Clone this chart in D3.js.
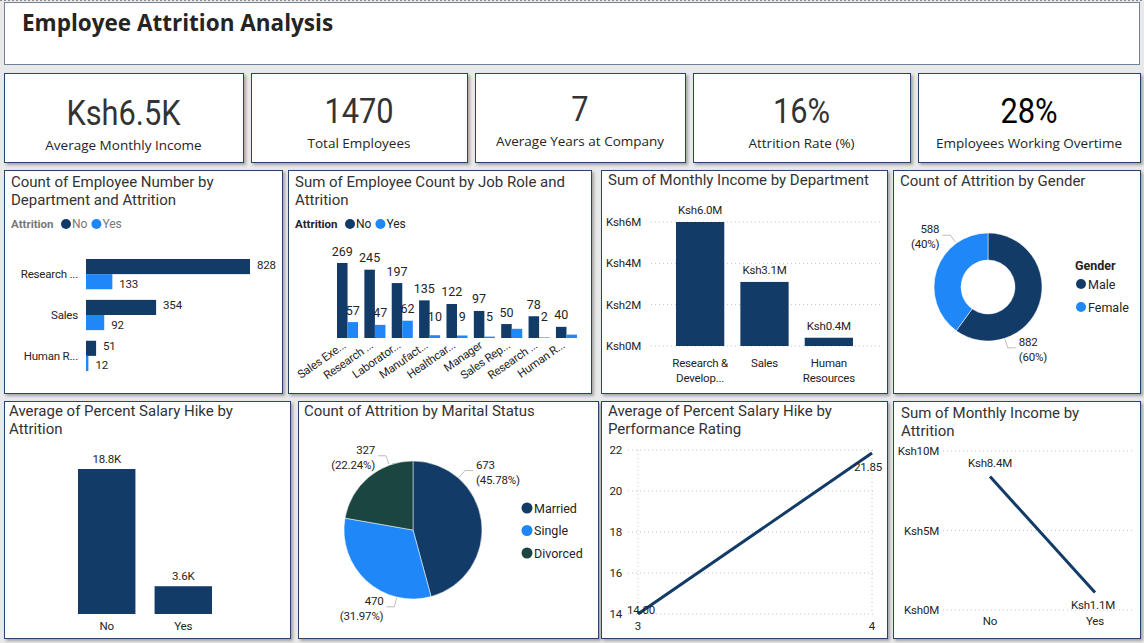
<!DOCTYPE html>
<html>
<head>
<meta charset="utf-8">
<script src="https://cdn.jsdelivr.net/npm/d3@7"></script>
<style>
body { margin: 0; background: #e9e9e9; }
svg { display: block; }
</style>
</head>
<body>
<script>
// kpi cards
const kpiValues = ["Ksh6.5K", "1470", "7", "16%", "28%"]
const kpiLabels = ["Average Monthly Income", "Total Employees", "Average Years at Company", "Attrition Rate (%)", "Employees Working Overtime"]

// employee count by department and attrition
const departments = ["Research ...", "Sales", "Human R..."]
const deptNo = [828, 354, 51]
const deptYes = [133, 92, 12]

// employee count by job role and attrition
const jobRoles = ["Sales Exe...", "Research ...", "Laborator...", "Manufact...", "Healthcar...", "Manager", "Sales Rep...", "Research ...", "Human R..."]
const roleNo = [269, 245, 197, 135, 122, 97, 50, 78, 40]
const roleYes = [57, 47, 62, 10, 9, 5, 33, 2, 12]

// monthly income by department
const incomeDepts = ["Research & Develop...", "Sales", "Human Resources"]
const incomeByDept = [6.0e6, 3.1e6, 0.4e6]
const incomeTicks = [0, 2e6, 4e6, 6e6]

// attrition by gender
const genders = ["Male", "Female"]
const genderCounts = [882, 588]

// percent salary hike by attrition
const hikeAttrition = ["No", "Yes"]
const hikeSums = [18800, 3600]

// attrition by marital status
const maritalStatus = ["Married", "Single", "Divorced"]
const maritalCounts = [673, 470, 327]

// salary hike by performance rating
const ratings = [3, 4]
const avgHike = [14.00, 21.85]
const hikeTicks = [14, 16, 18, 20, 22]

// monthly income by attrition
const incomeAttrition = ["No", "Yes"]
const incomeByAttrition = [8.4e6, 1.1e6]
const attritionTicks = [0, 5e6, 10e6]


const NAVY = "#123b68"
const BLUE = "#1f87f8"
const TEAL = "#1b4540"
const TXT = "#252423"
const GRID = "#c4c4c4"
const BORDER = "#27456b"
const CHART_FONT = "Roboto, 'DejaVu Sans', sans-serif"
const UI_FONT = "'Segoe UI', 'Open Sans', sans-serif"

const svg = d3.select("body").append("svg")
    .attr("width", 1144)
    .attr("height", 643)
    .attr("font-family", CHART_FONT)

svg.append("defs").append("filter")
    .attr("id", "shadow")
    .attr("x", "-5%").attr("y", "-5%")
    .attr("width", "115%").attr("height", "115%")
    .append("feDropShadow")
    .attr("dx", 2).attr("dy", 2)
    .attr("stdDeviation", 1.5)
    .attr("flood-color", "#000")
    .attr("flood-opacity", 0.3)


function box(x, y, w, h) {
    svg.append("rect")
        .attr("x", x + 0.5).attr("y", y + 0.5)
        .attr("width", w).attr("height", h)
        .attr("fill", "#fff")
        .attr("stroke", BORDER)
        .attr("filter", "url(#shadow)")
}

function title(lines, x, y) {
    const t = svg.append("text")
        .attr("font-size", 15)
        .attr("fill", "#333")
    lines.forEach((l, i) => t.append("tspan").attr("x", x).attr("y", y + i * 18).text(l))
}

function label(g, x, y, txt, anchor = "middle", size = 11.5, color = TXT) {
    return g.append("text")
        .attr("x", x).attr("y", y)
        .attr("text-anchor", anchor)
        .attr("dominant-baseline", "central")
        .attr("font-size", size)
        .attr("letter-spacing", size < 12 ? -0.2 : 0)
        .attr("fill", color)
        .text(txt)
}

function wrap(text, width) {
    text.each(function () {
        const t = d3.select(this)
        const words = t.text().split(" ")
        const x = t.attr("x"), y = +t.attr("y")
        t.text(null)
        let line = [], lineNo = 0
        let span = t.append("tspan").attr("x", x).attr("y", y)
        for (const w of words) {
            line.push(w)
            span.text(line.join(" "))
            if (span.node().getComputedTextLength() > width && line.length > 1) {
                line.pop()
                span.text(line.join(" "))
                line = [w]
                lineNo++
                span = t.append("tspan").attr("x", x).attr("y", y + lineNo * 15).text(w)
            }
        }
    })
}

function hgrid(g, ticks, y, x0, x1) {
    g.selectAll(null)
        .data(ticks)
        .join("line")
        .attr("x1", x0).attr("x2", x1)
        .attr("y1", d => y(d)).attr("y2", d => y(d))
        .attr("stroke", GRID)
        .attr("stroke-dasharray", "1,3")
}

function legend(g, x, y, heading, keys, colors, color) {
    label(g, x, y, heading, "start", 11.5, color).attr("font-weight", "bold").attr("letter-spacing", 0)
    let cx = x + 55
    keys.forEach((k, i) => {
        g.append("circle").attr("cx", cx).attr("cy", y).attr("r", 5).attr("fill", colors[i])
        const t = label(g, cx + 6, y, k, "start", 12, color)
        cx += 12 + t.node().getComputedTextLength() + 3
    })
}

function pieLabels(g, arcs, cx, cy, r, fracs, fmt) {
    arcs.forEach((d, i) => {
        const a = d.startAngle + fracs[i] * (d.endAngle - d.startAngle)
        const dx = Math.sin(a), dy = -Math.cos(a)
        const side = dx < 0 ? -1 : 1
        const p1 = [cx + dx * (r + 1), cy + dy * (r + 1)]
        const p2 = [cx + dx * (r + 10), cy + dy * (r + 10)]
        const p3 = [p2[0] + side * 8, p2[1]]
        g.append("polyline")
            .attr("points", [p1, p2, p3].join(" "))
            .attr("fill", "none")
            .attr("stroke", "#bdbdbd")
        fmt(d).forEach((line, j) => {
            label(g, p3[0] + side * 3, p3[1] - 6 + j * 15, line, side < 0 ? "end" : "start")
        })
    })
}


// header
svg.append("rect")
    .attr("x", 4.5).attr("y", 2.5)
    .attr("width", 1135).attr("height", 62)
    .attr("fill", "#fff")
    .attr("stroke", "#6f8299")
svg.append("line")
    .attr("x1", 0).attr("x2", 1144)
    .attr("y1", 0.5).attr("y2", 0.5)
    .attr("stroke", "#8a8a8a")
    .attr("stroke-dasharray", "2,2")
svg.append("text")
    .attr("x", 22).attr("y", 31)
    .attr("font-family", "'Open Sans', Lato, sans-serif")
    .attr("font-weight", "bold")
    .attr("font-size", 22.5)
    .attr("fill", TXT)
    .text("Employee Attrition Analysis")


// kpi cards
const cardX = [4, 251, 475, 693, 918]
const cardW = [239, 216, 210, 217, 222]
const cardShift = [2, 0, -2, 0, 0]
kpiValues.forEach((v, i) => {
    box(cardX[i], 73, cardW[i], 89)
    const cx = cardX[i] + cardW[i] / 2
    svg.append("text")
        .attr("x", cx).attr("y", 123 + cardShift[i])
        .attr("text-anchor", "middle")
        .attr("font-size", 35)
        .attr("transform", `translate(${cx * 0.12},0) scale(0.88,1)`)
        .attr("fill", i === 4 ? "#000" : "#333")
        .text(v)
    label(svg, cx, 143 + cardShift[i], kpiLabels[i], "middle", 13.5, TXT)
        .attr("font-family", UI_FONT)
})


// count of employee number by department and attrition
box(4, 170, 278, 223)
title(["Count of Employee Number by", "Department and Attrition"], 11, 187)
const p1 = svg.append("g")
legend(p1, 11, 224, "Attrition", ["No", "Yes"], [NAVY, BLUE], "#777")

const deptData = departments.map((d, i) => ({ key: d, No: deptNo[i], Yes: deptYes[i] }))
const deptY = d3.scaleBand().domain(departments).range([259, 371]).paddingInner(0.26)
const deptSub = d3.scaleBand().domain(["No", "Yes"]).range([0, deptY.bandwidth()])
const deptX = d3.scaleLinear().domain([0, d3.max(deptNo)]).range([86, 250])

deptData.forEach(d => {
    ["No", "Yes"].forEach((s, j) => {
        const y = deptY(d.key) + deptSub(s)
        p1.append("rect")
            .attr("x", deptX(0)).attr("y", y)
            .attr("width", deptX(d[s]) - deptX(0))
            .attr("height", deptSub.bandwidth())
            .attr("fill", j ? BLUE : NAVY)
        label(p1, deptX(d[s]) + 7, y + deptSub.bandwidth() / 2 + (j ? 2 : -2), d[s], "start")
    })
    label(p1, 78, deptY(d.key) + deptY.bandwidth() / 2, d.key, "end")
})


// sum of employee count by job role and attrition
box(288, 170, 303, 223)
title(["Sum of Employee Count by Job Role and", "Attrition"], 295, 187)
const p2 = svg.append("g")
legend(p2, 295, 224, "Attrition", ["No", "Yes"], [NAVY, BLUE], TXT)

const roleIdx = d3.range(jobRoles.length)
const roleX = d3.scaleBand().domain(roleIdx).range([337, 577]).paddingInner(0.23)
const roleSub = d3.scaleBand().domain(["No", "Yes"]).range([0, roleX.bandwidth()])
const roleY = d3.scaleLinear().domain([0, d3.max(roleNo)]).range([338, 263])

roleIdx.forEach(i => {
    const noTop = roleY(roleNo[i]), yesTop = roleY(roleYes[i])
    p2.append("rect")
        .attr("x", roleX(i) + roleSub("No")).attr("y", noTop)
        .attr("width", roleSub.bandwidth()).attr("height", roleY(0) - noTop)
        .attr("fill", NAVY)
    p2.append("rect")
        .attr("x", roleX(i) + roleSub("Yes")).attr("y", yesTop)
        .attr("width", roleSub.bandwidth()).attr("height", roleY(0) - yesTop)
        .attr("fill", BLUE)
    const noY = noTop - 12
    const yesY = Math.min(yesTop - 12, 316)
    label(p2, roleX(i) + roleSub("No") + roleSub.bandwidth() / 2, noY, roleNo[i], "middle", 12.5)
    if (Math.abs(yesY - noY) >= 10) {
        label(p2, roleX(i) + roleSub("Yes") + roleSub.bandwidth() / 2, yesY, roleYes[i], "middle", 12.5)
    }
    p2.append("text")
        .attr("transform", `translate(${roleX(i) + roleX.bandwidth() / 2 - 1},${347}) rotate(-35)`)
        .attr("text-anchor", "end")
        .attr("font-size", 11.5)
        .attr("letter-spacing", -0.2)
        .attr("fill", TXT)
        .text(jobRoles[i])
})


// sum of monthly income by department
box(601, 170, 286, 223)
title(["Sum of Monthly Income by Department"], 608, 185)
const p3 = svg.append("g")
const incY = d3.scaleLinear().domain([0, 6e6]).range([346, 222])
const incX = d3.scaleBand().domain(incomeDepts).range([676, 853]).paddingInner(0.25)
const ksh = v => "Ksh" + d3.format(".1f")(v / 1e6) + "M"

hgrid(p3, incomeTicks, incY, 651, 881)
incomeTicks.forEach(t => label(p3, 641, incY(t), "Ksh" + t / 1e6 + "M", "end"))
incomeDepts.forEach((d, i) => {
    p3.append("rect")
        .attr("x", incX(d)).attr("y", incY(incomeByDept[i]))
        .attr("width", incX.bandwidth())
        .attr("height", incY(0) - incY(incomeByDept[i]))
        .attr("fill", NAVY)
    label(p3, incX(d) + incX.bandwidth() / 2, incY(incomeByDept[i]) - 12, ksh(incomeByDept[i]))
    label(p3, incX(d) + incX.bandwidth() / 2, 363, d).call(wrap, 64)
})


// count of attrition by gender
box(893, 170, 247, 223)
title(["Count of Attrition by Gender"], 900, 186)
const p4 = svg.append("g")
const genderColor = d3.scaleOrdinal().domain(genders).range([NAVY, BLUE])
const genderArcs = d3.pie().sort(null)(genderCounts)
const donut = d3.arc().innerRadius(27).outerRadius(54)
const total = d3.sum(genderCounts)

p4.append("g")
    .attr("transform", "translate(988,287)")
    .selectAll("path")
    .data(genderArcs)
    .join("path")
    .attr("d", donut)
    .attr("fill", (d, i) => genderColor(genders[i]))
    .attr("stroke", "#fff")
    .attr("stroke-width", 0.5)
pieLabels(p4, genderArcs, 988, 287, 54, [0.75, 0.75],
    d => [d.value, "(" + d3.format(".0%")(d.value / total) + ")"])

label(p4, 1075, 265, "Gender", "start", 12.5).attr("font-weight", "bold")
genders.forEach((g, i) => {
    p4.append("circle").attr("cx", 1081).attr("cy", 284 + i * 23).attr("r", 5).attr("fill", genderColor(g))
    label(p4, 1088, 284 + i * 23, g, "start", 12.5)
})


// average of percent salary hike by attrition
box(4, 401, 286, 237)
title(["Average of Percent Salary Hike by", "Attrition"], 9, 416)
const p5 = svg.append("g")
const hikeX = d3.scaleBand().domain(hikeAttrition).range([78, 212]).paddingInner(0.25)
const hikeY = d3.scaleLinear().domain([0, d3.max(hikeSums)]).range([614, 469])

hikeAttrition.forEach((d, i) => {
    p5.append("rect")
        .attr("x", hikeX(d)).attr("y", hikeY(hikeSums[i]))
        .attr("width", hikeX.bandwidth())
        .attr("height", hikeY(0) - hikeY(hikeSums[i]))
        .attr("fill", NAVY)
    label(p5, hikeX(d) + hikeX.bandwidth() / 2, hikeY(hikeSums[i]) - 10, d3.format(".1f")(hikeSums[i] / 1000) + "K")
    label(p5, hikeX(d) + hikeX.bandwidth() / 2, 626, d)
})


// count of attrition by marital status
box(298, 401, 300, 237)
title(["Count of Attrition by Marital Status"], 304, 416)
const p6 = svg.append("g")
const maritalColor = d3.scaleOrdinal().domain(maritalStatus).range([NAVY, BLUE, TEAL])
const maritalArcs = d3.pie().sort(null)(maritalCounts)
const pieArc = d3.arc().innerRadius(0).outerRadius(69)
const maritalTotal = d3.sum(maritalCounts)

p6.append("g")
    .attr("transform", "translate(413,530)")
    .selectAll("path")
    .data(maritalArcs)
    .join("path")
    .attr("d", pieArc)
    .attr("fill", (d, i) => maritalColor(maritalStatus[i]))
    .attr("stroke", "#fff")
    .attr("stroke-width", 0.5)
pieLabels(p6, maritalArcs, 413, 530, 69, [0.25, 0.25, 0.75],
    d => [d.value, "(" + d3.format(".2%")(d.value / maritalTotal) + ")"])

maritalStatus.forEach((m, i) => {
    p6.append("circle").attr("cx", 527).attr("cy", 508 + i * 22.5).attr("r", 5.5).attr("fill", maritalColor(m))
    label(p6, 534, 508 + i * 22.5, m, "start", 12.5)
})


// average of percent salary hike by performance rating
box(601, 401, 286, 237)
title(["Average of Percent Salary Hike by", "Performance Rating"], 608, 416)
const p7 = svg.append("g")
const rateX = d3.scaleLinear().domain(d3.extent(ratings)).range([638, 872])
const rateY = d3.scaleLinear().domain([14, 22]).range([614, 450])

hgrid(p7, hikeTicks, rateY, 628, 876)
p7.selectAll(null)
    .data(ratings)
    .join("line")
    .attr("x1", d => rateX(d)).attr("x2", d => rateX(d))
    .attr("y1", rateY(22)).attr("y2", rateY(14))
    .attr("stroke", GRID)
    .attr("stroke-dasharray", "1,3")
hikeTicks.forEach(t => label(p7, 622, rateY(t), t, "end"))
ratings.forEach(r => label(p7, rateX(r), 626, r))

const ratePts = ratings.map((r, i) => [rateX(r), rateY(avgHike[i])])
p7.append("path")
    .attr("d", d3.line()(ratePts))
    .attr("fill", "none")
    .attr("stroke", NAVY)
    .attr("stroke-width", 3)
label(p7, ratePts[0][0] + 3, ratePts[0][1] - 4, d3.format(".2f")(avgHike[0]))
label(p7, ratePts[1][0] - 4, ratePts[1][1] + 14, d3.format(".2f")(avgHike[1]))


// sum of monthly income by attrition
box(893, 401, 247, 237)
title(["Sum of Monthly Income by", "Attrition"], 901, 418)
const p8 = svg.append("g")
const attrX = d3.scalePoint().domain(incomeAttrition).range([990, 1095])
const attrY = d3.scaleLinear().domain([0, 10e6]).range([610, 451])

hgrid(p8, attritionTicks, attrY, 943, 1133)
attritionTicks.forEach(t => label(p8, 939, attrY(t), "Ksh" + t / 1e6 + "M", "end"))
incomeAttrition.forEach(a => label(p8, attrX(a), 621, a))

const attrPts = incomeAttrition.map((a, i) => [attrX(a), attrY(incomeByAttrition[i])])
p8.append("path")
    .attr("d", d3.line()(attrPts))
    .attr("fill", "none")
    .attr("stroke", NAVY)
    .attr("stroke-width", 3)
label(p8, attrPts[0][0], attrPts[0][1] - 13, ksh(incomeByAttrition[0]))
label(p8, attrPts[1][0] - 2, attrPts[1][1] + 12, ksh(incomeByAttrition[1]))
</script>
</body>
</html>
